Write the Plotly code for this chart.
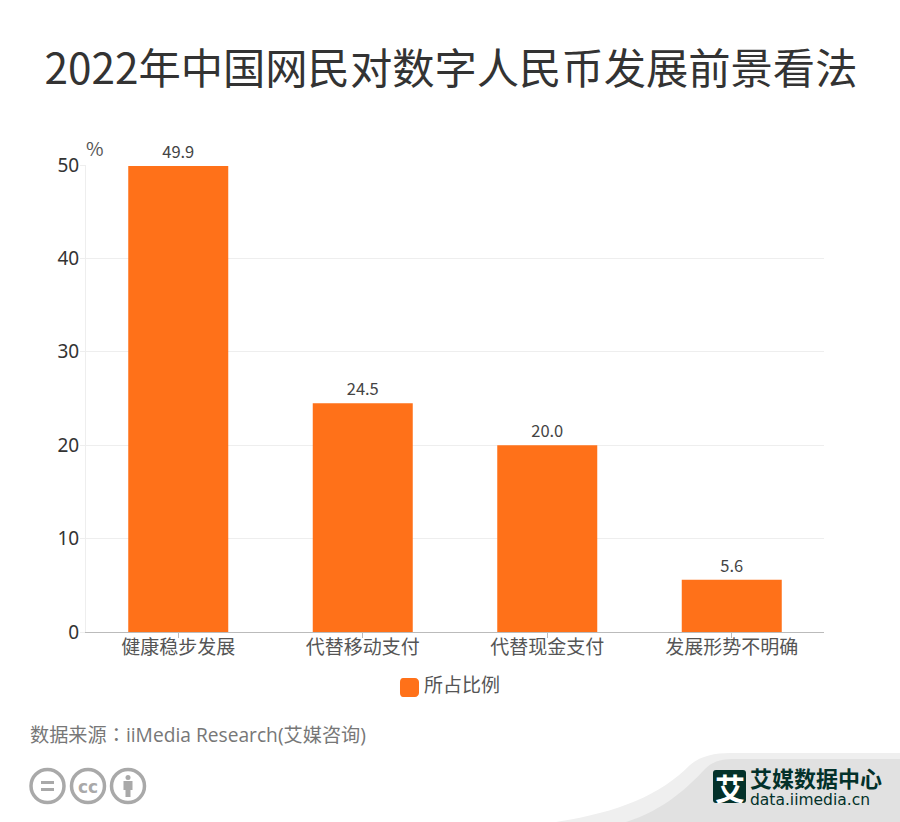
import plotly.graph_objects as go

categories = ["健康稳步发展", "代替移动支付", "代替现金支付", "发展形势不明确"]
values = [49.9, 24.5, 20.0, 5.6]
y_ticks = [0, 10, 20, 30, 40, 50]
series_name = "所占比例"
title = "2022年中国网民对数字人民币发展前景看法"
source = "数据来源<span style='font-family:Noto Sans CJK TC'>：</span>iiMedia Research(艾媒咨询)"
logo_name = "<span style='font-size:22px'><b>艾媒数据中心</b></span>"
logo_site = "<span style='font-size:15.5px'>data.iimedia.cn</span>"

W, H = 900, 822
LEFT, RIGHT, TOP, BOTTOM = 86, 824, 165, 632
CJK = "Noto Sans CJK SC"
LATIN_CJK = "Open Sans, Noto Sans CJK SC"
ORANGE = "#FF7119"
GREEN = "#03312A"
ICON = "#A9A9A9"


def px(x):
    return (x - LEFT) / (RIGHT - LEFT)


def py(y):
    return (BOTTOM - y) / (BOTTOM - TOP)


def path(points):
    # points are page pixels, converted to paper coordinates
    out = []
    for cmd, *xy in points:
        coords = [
            f"{px(xy[i]):.5f},{py(xy[i + 1]):.5f}" for i in range(0, len(xy), 2)
        ]
        out.append(cmd + " ".join(coords))
    return " ".join(out) + " Z"


def shape_path(points, fill, layer="below"):
    return dict(
        type="path", xref="paper", yref="paper", path=path(points),
        fillcolor=fill, line_width=0, layer=layer,
    )


def circle(cx, cy, r, fill="rgba(0,0,0,0)", line=ICON, width=3.5):
    return dict(
        type="circle", xref="paper", yref="paper", layer="above",
        x0=px(cx - r), x1=px(cx + r), y0=py(cy + r), y1=py(cy - r),
        fillcolor=fill, line=dict(color=line, width=width),
    )


def text(x, y, s, size, color, anchor="left", family=CJK):
    return dict(
        xref="paper", yref="paper", x=px(x), y=py(y), text=s, showarrow=False,
        xanchor=anchor, yanchor="middle", align="left",
        font=dict(family=family, size=size, color=color),
    )


fig = go.Figure(
    go.Bar(
        x=categories,
        y=values,
        name=series_name,
        marker=dict(color=ORANGE, line_width=0),
        texttemplate="%{y:.1f}",
        textposition="outside",
        textfont=dict(family=CJK, size=16.5, color="#444444"),
        constraintext="none",
        cliponaxis=False,
        hoverinfo="x+y",
    )
)

shapes = [
    # swoosh in the corner
    shape_path(
        [("M", 556, 822), ("C", 620, 812, 660, 795, 690, 765),
         ("C", 700, 756, 715, 753, 730, 753), ("L", 900, 753), ("L", 900, 822)],
        "#EFEFEF",
    ),
    shape_path(
        [("M", 626, 822), ("C", 665, 810, 690, 785, 705, 769),
         ("C", 713, 761, 722, 759, 735, 759), ("L", 900, 759), ("L", 900, 822)],
        "#E1E1E1",
    ),
    # logo box
    shape_path(
        [("M", 716, 770), ("L", 743, 770), ("C", 745, 770, 746, 771, 746, 773),
         ("L", 746, 800), ("C", 746, 802, 745, 803, 743, 803), ("L", 716, 803),
         ("C", 714, 803, 713, 802, 713, 800), ("L", 713, 773),
         ("C", 713, 771, 714, 770, 716, 770)],
        GREEN,
    ),
    # legend swatch
    shape_path(
        [("M", 403, 678), ("L", 415, 678), ("C", 417, 678, 419, 680, 419, 682),
         ("L", 419, 693), ("C", 419, 695, 417, 697, 415, 697), ("L", 403, 697),
         ("C", 401, 697, 400, 695, 400, 693), ("L", 400, 682),
         ("C", 400, 680, 401, 678, 403, 678)],
        ORANGE,
    ),
    # licence icons
    circle(47.5, 786, 16.5),
    circle(88, 786, 16.5),
    circle(128, 786, 16.5),
    shape_path([("M", 41, 781), ("L", 54, 781), ("L", 54, 784), ("L", 41, 784)], ICON, "above"),
    shape_path([("M", 41, 788), ("L", 54, 788), ("L", 54, 791), ("L", 41, 791)], ICON, "above"),
    circle(128, 777.5, 2.5, fill=ICON, width=0),
    shape_path(
        [("M", 123.5, 781), ("L", 132.5, 781), ("L", 132.5, 790), ("L", 130.5, 790),
         ("L", 130.5, 797), ("L", 125.5, 797), ("L", 125.5, 790), ("L", 123.5, 790)],
        ICON, "above",
    ),
]

annotations = [
    text(95, 148, "%", 19, "#555555", "center"),
    text(422, 683, series_name, 19, "#555555"),
    text(28, 734, source, 19.2, "#777777", family=LATIN_CJK),
    text(88, 786.5, "<b>cc</b>", 17, ICON, "center", "DejaVu Sans"),
    text(729.5, 786.5, "<b>艾</b>", 30, "#FFFFFF", "center"),
    text(748, 788, logo_name + "<br>" + logo_site, 14, GREEN, family="DejaVu Sans, Noto Sans CJK SC"),
]

fig.update_layout(
    width=W,
    height=H,
    margin=dict(l=LEFT, r=W - RIGHT, t=TOP, b=H - BOTTOM, pad=0),
    paper_bgcolor="#FFFFFF",
    plot_bgcolor="#FFFFFF",
    showlegend=False,
    bargap=0.458,
    title=dict(
        text=title, x=px(451), xanchor="center", xref="paper",
        y=1 - 69 / H, yanchor="middle", yref="container",
        font=dict(family=CJK, size=42.3, color="#333333"),
    ),
    shapes=shapes,
    annotations=annotations,
)
fig.update_xaxes(
    type="category",
    showgrid=False,
    showline=True,
    linecolor="#BBBBBB",
    linewidth=1,
    ticks="outside",
    ticklen=5,
    tickcolor="#BBBBBB",
    ticklabelstandoff=-7,
    tickfont=dict(family=CJK, size=19, color="#555555"),
)
fig.update_yaxes(
    range=[0, 50],
    tickvals=y_ticks,
    showgrid=True,
    gridcolor="#EEEEEE",
    gridwidth=1,
    zeroline=False,
    showline=True,
    linecolor="#EEEEEE",
    ticks="outside",
    ticklen=5,
    tickcolor="#EEEEEE",
    ticklabelstandoff=-3,
    tickfont=dict(family="Noto Sans", size=19, color="#333333"),
)

fig.write_html(
    "out.html",
    config={"displayModeBar": False},
    post_script="document.body.style.margin='0';",
)
